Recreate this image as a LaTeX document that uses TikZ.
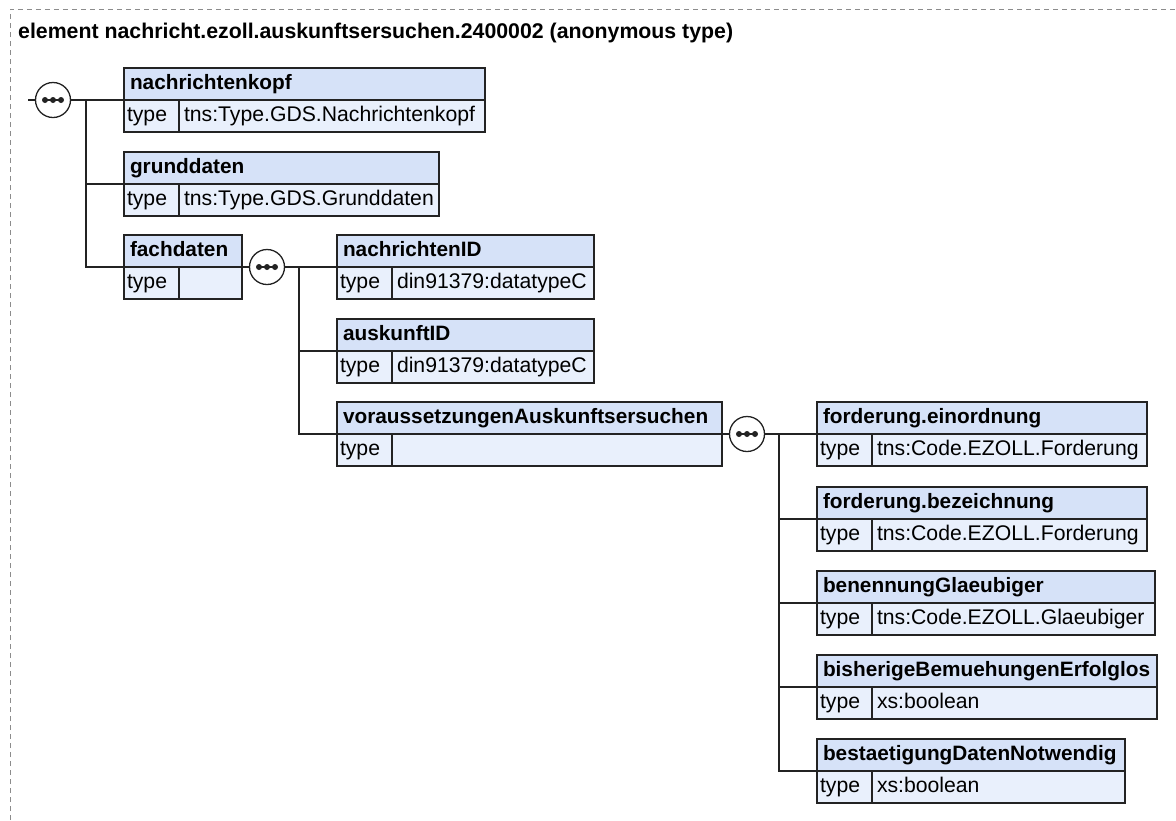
\documentclass[tikz,border=0pt]{standalone}
\usepackage{fontspec}
\setmainfont{Liberation Sans}
\definecolor{hdrfill}{RGB}{214,226,248}
\definecolor{rowfill}{RGB}{233,240,252}
\definecolor{edge}{RGB}{35,35,35}
\definecolor{frame}{RGB}{140,140,140}
\tikzset{
  hdr/.style={draw=edge, fill=hdrfill, line width=1.3pt, anchor=north west, minimum height=32pt,
    outer sep=0pt, inner xsep=6pt, inner ysep=0pt, align=left, text height=14pt, text depth=4pt,
    font=\fontsize{20.8}{22}\selectfont\bfseries},
  cell/.style={draw=edge, fill=rowfill, line width=1.3pt, anchor=north west, minimum height=32pt,
    outer sep=0pt, inner ysep=0pt, align=left, text height=14pt, text depth=4pt,
    font=\fontsize{21.2}{22}\selectfont},
  comp/.style={circle, draw=edge, fill=white, line width=1.3pt, minimum size=35pt, inner sep=0pt, outer sep=0pt},
  conn/.style={draw=edge, line width=1.3pt},
}
\newcommand\elembox[6]{% name, x, y, width, title, value
  \node[hdr, text width=#4pt-12pt] (#1) at (#2,#3) {#5};
  \node[cell, text width=49pt, inner xsep=3pt] (#1t) at (#1.south west) {type};
  \node[cell, text width=#4pt-65pt, inner xsep=5pt] (#1v) at (#1t.north east) {#6};
}
\newcommand\compdots[1]{%
  \draw[edge, line width=1.4pt] ([xshift=-9pt]#1.center) -- ([xshift=9pt]#1.center);
  \foreach \dx in {-8,0,8} \fill[edge] ([xshift=\dx pt]#1.center) circle (3pt);
}
\begin{document}
\begin{tikzpicture}[x=1pt,y=-1pt]
\useasboundingbox (0,0) rectangle (1176,820);
\draw[frame, line width=1pt, dash pattern=on 5pt off 4pt] (10,820) -- (10,9) -- (1176,9);
\node[anchor=base west, inner sep=0pt, font=\fontsize{21.3}{22}\selectfont\bfseries] (title) at (18,38)
  {element nachricht.ezoll.auskunftsersuchen.2400002 (anonymous type)};

% level 1
\node[comp] (c1) at (53,100) {};
\compdots{c1}
\elembox{nk}{124}{68}{361}{nachrichtenkopf}{tns:Type.GDS.Nachrichtenkopf}
\elembox{gd}{124}{152}{315}{grunddaten}{tns:Type.GDS.Grunddaten}
\elembox{fd}{124}{235}{118}{fachdaten}{}

% level 2
\node[comp] (c2) at (267,267) {};
\compdots{c2}
\elembox{nid}{337}{235}{257}{nachrichtenID}{din91379:datatypeC}
\elembox{aid}{337}{319}{257}{auskunftID}{din91379:datatypeC}
\elembox{va}{337}{402}{385}{voraussetzungenAuskunftsersuchen}{}

% level 3
\node[comp] (c3) at (747,434) {};
\compdots{c3}
\elembox{fe}{817}{402}{330}{forderung.einordnung}{tns:Code.EZOLL.Forderung}
\elembox{fb}{817}{487}{330}{forderung.bezeichnung}{tns:Code.EZOLL.Forderung}
\elembox{bg}{817}{571}{338}{benennungGlaeubiger}{tns:Code.EZOLL.Glaeubiger}
\elembox{bb}{817}{655}{340}{bisherigeBemuehungenErfolglos}{xs:boolean}
\elembox{bd}{817}{739}{308}{bestaetigungDatenNotwendig}{xs:boolean}

% connectors
\coordinate (in1) at (28,100);
\coordinate (v1) at (86,100);
\coordinate (v2) at (299,267);
\coordinate (v3) at (779,434);
\draw[conn] (in1) -- (c1.west);
\draw[conn] (c1.east) -- (c1.east -| nk.south west);
\draw[conn] (v1) -- (v1 |- fd.south west) -- (fd.south west);
\draw[conn] (v1 |- gd.south west) -- (gd.south west);
\draw[conn] (fd.south east) -- (c2.west);
\draw[conn] (c2.east) -- (c2.east -| nid.south west);
\draw[conn] (v2) -- (v2 |- va.south west) -- (va.south west);
\draw[conn] (v2 |- aid.south west) -- (aid.south west);
\draw[conn] (va.south east) -- (c3.west);
\draw[conn] (c3.east) -- (c3.east -| fe.south west);
\draw[conn] (v3) -- (v3 |- bd.south west) -- (bd.south west);
\draw[conn] (v3 |- fb.south west) -- (fb.south west);
\draw[conn] (v3 |- bg.south west) -- (bg.south west);
\draw[conn] (v3 |- bb.south west) -- (bb.south west);
\end{tikzpicture}
\end{document}
